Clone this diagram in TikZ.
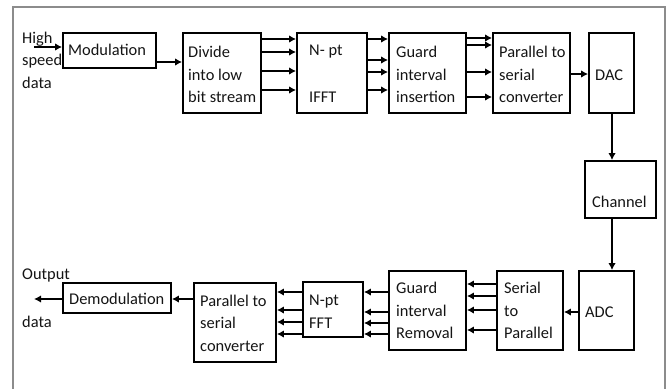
\documentclass[tikz,border=0pt]{standalone}
\usepackage{fontspec}
\setmainfont{Carlito}
\usetikzlibrary{arrows.meta,fit}
\begin{document}
\begin{tikzpicture}[x=1pt,y=-1pt,
  box/.style={draw=black, line width=1.8pt, rectangle, inner sep=0pt},
  txt/.style={font=\fontsize{16.4}{22.5}\selectfont, text=black!92, align=left, inner sep=0pt, anchor=west},
  arr/.style={line width=1.8pt, -{Latex[length=7pt,width=7.5pt]}},
  frame/.style={draw=black!45, line width=1.3pt}]
\useasboundingbox (0,0) rectangle (671,388);
\draw[frame] (13,392) -- (13,7) -- (665,7) -- (665,392);
% boxes
\node[box, fit={(63,33) (156,68)}] (mod) {};
\node[box, fit={(183,33) (261,113)}] (div) {};
\node[box, fit={(297,33) (367,113)}] (ifft) {};
\node[box, fit={(389,33) (466,113)}] (gi) {};
\node[box, fit={(493,33) (570,113)}] (ps) {};
\node[box, fit={(589,33) (634,113)}] (dac) {};
\node[box, fit={(585,161) (656,218)}] (chan) {};
\node[box, fit={(579,271) (634,350)}] (adc) {};
\node[box, fit={(497,271) (563,350)}] (sp) {};
\node[box, fit={(389,271) (466,350)}] (gr) {};
\node[box, fit={(303,282) (363,337)}] (fft) {};
\node[box, fit={(194,283) (276,362)}] (pstwo) {};
\node[box, fit={(63,283) (171,313)}] (demod) {};
% texts
\node[txt] (tmod) at (68,50) {Modulation};
\node[txt] (tdiv) at (188,74.5) {Divide\\into low\\bit stream};
\node[txt] (tifa) at (309,52) {N- pt};
\node[txt] (tifb) at (309,97) {IFFT};
\node[txt] (tgi) at (396,74.5) {Guard\\interval\\insertion};
\node[txt] (tps) at (499,74.5) {Parallel to\\serial\\converter};
\node[txt] (tdac) at (595,75) {DAC};
\node[txt] (tchan) at (592,202) {Channel};
\node[txt] (tadc) at (585,312) {ADC};
\node[txt] (tsp) at (504,310.5) {Serial\\to\\Parallel};
\node[txt] (tgr) at (396,310.5) {Guard\\interval\\Removal};
\node[txt] (tfft) at (309,311.5) {N-pt\\FFT};
\node[txt] (tpstwo) at (200,323) {Parallel to\\serial\\converter};
\node[txt] (tdemod) at (69,299) {Demodulation};
\node[txt] (thigh) at (22,60) {High\\speed\\data};
\node[txt] (tout) at (22,275) {Output};
\node[txt] (tdata) at (22,322) {data};
% connectors
\coordinate (in) at (34,47);
\coordinate (out) at (34,299);
\draw[arr] (in) -- (mod.west |- in);
\draw[arr] (mod.east |- 0,62) -- (div.west |- 0,62);
\foreach \y in {39,52,71,90} \draw[arr] (div.east |- 0,\y) -- (ifft.west |- 0,\y);
\foreach \y in {39,60,72,90} \draw[arr] (ifft.east |- 0,\y) -- (gi.west |- 0,\y);
\foreach \y in {38,45,72,97} \draw[arr] (gi.east |- 0,\y) -- (ps.west |- 0,\y);
\draw[arr] (ps.east |- 0,74) -- (dac.west |- 0,74);
\draw[arr] (dac.south -| 612,0) -- (chan.north -| 612,0);
\draw[arr] (chan.south -| 612,0) -- (adc.north -| 612,0);
\draw[arr] (adc.west |- 0,312) -- (sp.east |- 0,312);
\foreach \y in {284,296,310,330} \draw[arr] (sp.west |- 0,\y) -- (gr.east |- 0,\y);
\foreach \y in {292,312,323,334} \draw[arr] (gr.west |- 0,\y) -- (fft.east |- 0,\y);
\foreach \y in {292,310,322,334} \draw[arr] (fft.west |- 0,\y) -- (pstwo.east |- 0,\y);
\draw[arr] (pstwo.west |- 0,299) -- (demod.east |- 0,299);
\draw[arr] (demod.west |- out) -- (out);
\end{tikzpicture}
\end{document}
